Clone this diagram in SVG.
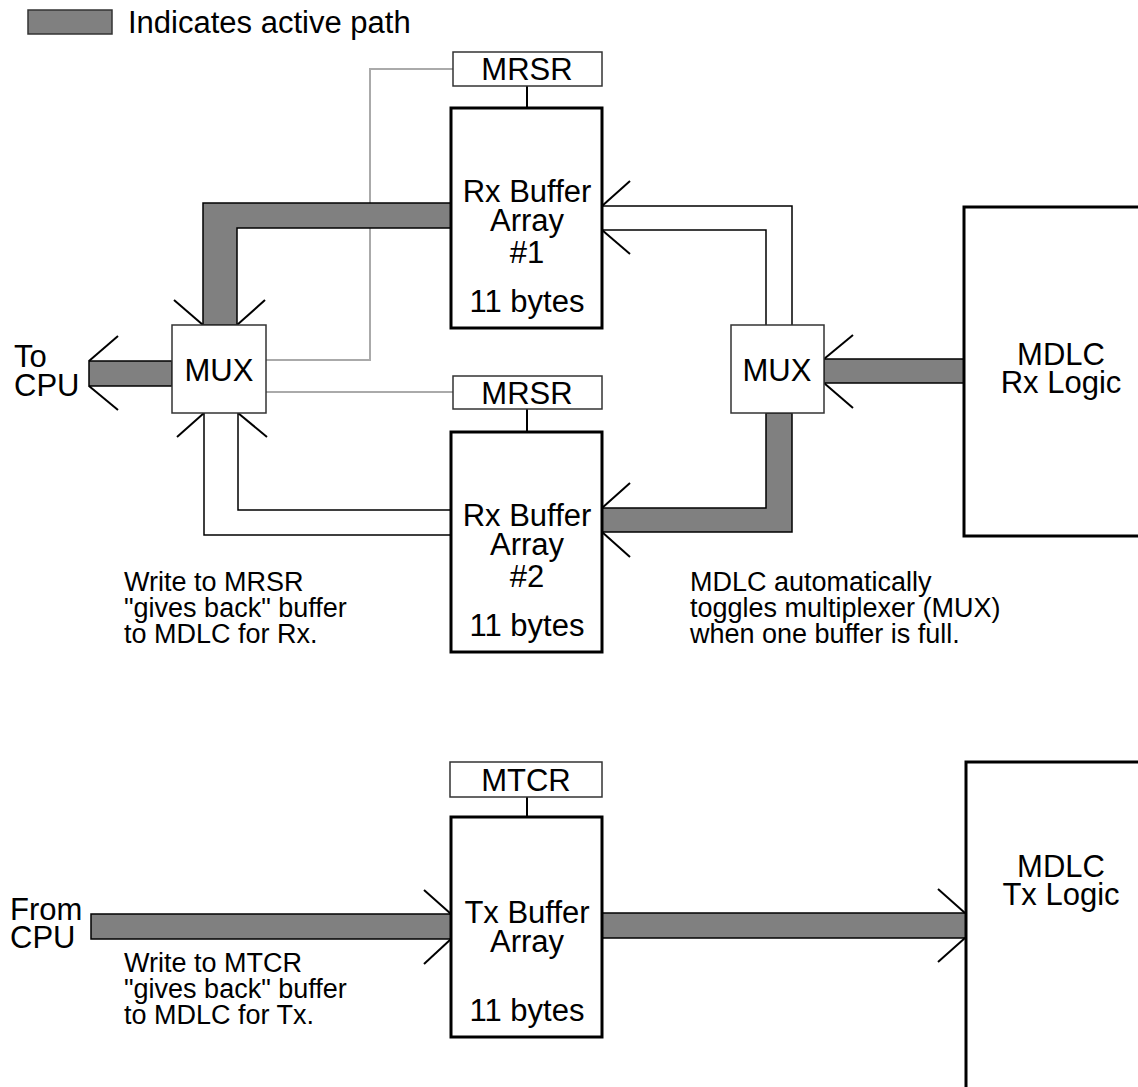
<svg xmlns="http://www.w3.org/2000/svg" width="1138" height="1087" viewBox="0 0 1138 1087">
<style>
text{font-family:"Liberation Sans",Arial,Helvetica,sans-serif;fill:#000}
.lbl{font-size:31px;text-anchor:middle}
.note{font-size:27px}
.side{font-size:31px}
.buf{fill:#fff;stroke:#000;stroke-width:3}
.reg{fill:#fff;stroke:#333;stroke-width:1.5}
.mux{fill:#fff;stroke:#333;stroke-width:1.5}
.act{fill:#808080;stroke:#000;stroke-width:1.5;stroke-linejoin:miter}
.hol{fill:none;stroke:#000;stroke-width:1.5}
.gry{fill:none;stroke:#aaa;stroke-width:2}
.arr{fill:none;stroke:#000;stroke-width:2}
.lnk{fill:none;stroke:#000;stroke-width:2}
</style>
<rect width="1138" height="1087" fill="#fff"/>

<g id="legend">
<rect x="28" y="10" width="84" height="24" fill="#808080" stroke="#333" stroke-width="1.5"/>
<text x="128" y="33" class="side">Indicates active path</text>
</g>

<g id="connectors">
<!-- gray control lines -->
<polyline class="gry" points="453,69 370,69 370,360 266,360"/>
<line class="gry" x1="266" y1="392" x2="453" y2="392"/>
<!-- register links -->
<line class="lnk" x1="527" y1="86" x2="527" y2="108"/>
<line class="lnk" x1="527" y1="409" x2="527" y2="432"/>
<line class="lnk" x1="527" y1="797" x2="527" y2="817"/>
<!-- hollow paths -->
<polyline class="hol" points="602,206 792,206 792,325"/>
<polyline class="hol" points="602,230 766,230 766,325"/>
<polyline class="hol" points="451,535 204,535 204,413"/>
<polyline class="hol" points="451,510 238,510 238,413"/>
<!-- active paths -->
<polygon class="act" points="451,203 203,203 203,325 237,325 237,228 451,228"/>
<rect class="act" x="89" y="361" width="83" height="25"/>
<rect class="act" x="824" y="359" width="140" height="24"/>
<polygon class="act" points="766,413 766,508 602,508 602,532 792,532 792,413"/>
<rect class="act" x="91" y="914" width="360" height="25"/>
<rect class="act" x="602" y="913" width="364" height="25"/>
<!-- arrowheads -->
<polyline class="arr" points="118,336 89,361"/>
<polyline class="arr" points="118,410 89,386"/>
<polyline class="arr" points="174,300 203,325"/>
<polyline class="arr" points="265,300 237,325"/>
<polyline class="arr" points="630,181 602,206"/>
<polyline class="arr" points="630,254 602,230"/>
<polyline class="arr" points="853,335 824,359"/>
<polyline class="arr" points="853,408 824,383"/>
<polyline class="arr" points="630,483 602,508"/>
<polyline class="arr" points="630,557 602,532"/>
<polyline class="arr" points="177,437 204,413"/>
<polyline class="arr" points="267,437 238,413"/>
<polyline class="arr" points="424,890 451,914"/>
<polyline class="arr" points="424,964 451,939"/>
<polyline class="arr" points="938,889 965,913"/>
<polyline class="arr" points="938,962 965,938"/>
</g>

<g id="mrsr1">
<rect class="reg" x="453" y="52" width="149" height="34"/>
<text x="527" y="80" class="lbl">MRSR</text>
</g>

<g id="rxbuf1">
<rect class="buf" x="451" y="108" width="151" height="220"/>
<text x="527" y="202" class="lbl">Rx Buffer</text>
<text x="527" y="231" class="lbl">Array</text>
<text x="527" y="263" class="lbl">#1</text>
<text x="527" y="312" class="lbl">11 bytes</text>
</g>

<g id="mux1">
<rect class="mux" x="172" y="325" width="94" height="88"/>
<text x="219" y="381" class="lbl">MUX</text>
</g>

<g id="tocpu">
<text x="14" y="367" class="side">To</text>
<text x="14" y="396" class="side">CPU</text>
</g>

<g id="mrsr2">
<rect class="reg" x="453" y="376" width="149" height="33"/>
<text x="527" y="404" class="lbl">MRSR</text>
</g>

<g id="rxbuf2">
<rect class="buf" x="451" y="432" width="151" height="220"/>
<text x="527" y="526" class="lbl">Rx Buffer</text>
<text x="527" y="555" class="lbl">Array</text>
<text x="527" y="587" class="lbl">#2</text>
<text x="527" y="636" class="lbl">11 bytes</text>
</g>

<g id="mux2">
<rect class="mux" x="731" y="325" width="93" height="88"/>
<text x="777" y="381" class="lbl">MUX</text>
</g>

<g id="mdlcrx">
<rect class="buf" x="964" y="207" width="200" height="329"/>
<text x="1061" y="365" class="lbl">MDLC</text>
<text x="1061" y="393" class="lbl">Rx Logic</text>
</g>

<g id="note-rx-left">
<text x="124" y="591" class="note">Write to MRSR</text>
<text x="124" y="617" class="note">"gives back" buffer</text>
<text x="124" y="643" class="note">to MDLC for Rx.</text>
</g>

<g id="note-rx-right">
<text x="690" y="591" class="note">MDLC automatically</text>
<text x="690" y="617" class="note">toggles multiplexer (MUX)</text>
<text x="690" y="643" class="note">when one buffer is full.</text>
</g>

<g id="mtcr">
<rect class="reg" x="450" y="762" width="152" height="35"/>
<text x="526" y="791" class="lbl">MTCR</text>
</g>

<g id="txbuf">
<rect class="buf" x="451" y="817" width="151" height="220"/>
<text x="527" y="923" class="lbl">Tx Buffer</text>
<text x="527" y="952" class="lbl">Array</text>
<text x="527" y="1021" class="lbl">11 bytes</text>
</g>

<g id="fromcpu">
<text x="10" y="920" class="side">From</text>
<text x="10" y="948" class="side">CPU</text>
</g>

<g id="note-tx">
<text x="124" y="972" class="note">Write to MTCR</text>
<text x="124" y="998" class="note">"gives back" buffer</text>
<text x="124" y="1024" class="note">to MDLC for Tx.</text>
</g>

<g id="mdlctx">
<rect class="buf" x="966" y="762" width="200" height="340"/>
<text x="1061" y="877" class="lbl">MDLC</text>
<text x="1061" y="905" class="lbl">Tx Logic</text>
</g>
</svg>
